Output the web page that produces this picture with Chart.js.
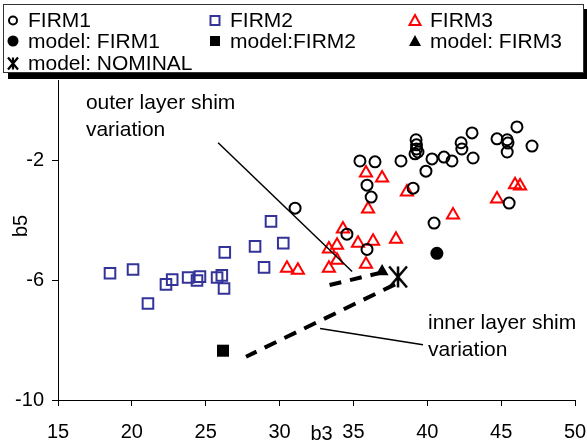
<!DOCTYPE html>
<html>
<head>
<meta charset="utf-8">
<script src="https://cdn.jsdelivr.net/npm/chart.js@4.4.0/dist/chart.umd.min.js"></script>
<style>
  body { margin: 0; background: #fff; }
  canvas { display: block; }
</style>
</head>
<body>
<canvas id="chart" width="587" height="442"></canvas>
<script>
// measured points, b3 on x, b5 on y
const firm1B3 = [35.44, 36.46, 38.22, 39.24, 39.27, 39.27, 39.17, 39.37, 40.32, 41.13, 41.67, 39.91, 42.29, 42.34, 43.03, 43.1, 44.72, 45.41, 45.46, 45.41, 46.07, 47.09, 35.92, 36.2, 39.04, 45.54, 31.05, 40.46, 34.56, 35.92];
const firm1B5 = [-2.0, -2.03, -2.0, -1.29, -1.46, -1.6, -1.76, -1.7, -1.93, -1.87, -2.0, -2.34, -1.39, -1.6, -1.06, -1.9, -1.26, -1.29, -1.4, -1.7, -0.86, -1.5, -2.81, -3.21, -2.91, -3.41, -3.58, -4.08, -4.45, -4.96];

const firm2B3 = [18.52, 20.08, 21.09, 22.31, 22.73, 23.81, 24.41, 24.61, 25.77, 26.09, 26.24, 26.29, 28.34, 28.95, 29.42, 30.25];
const firm2B5 = [-5.76, -5.63, -6.77, -6.13, -5.97, -5.9, -6.0, -5.87, -5.9, -5.83, -6.27, -5.06, -4.86, -5.56, -4.02, -4.75];

const firm3B3 = [35.85, 36.94, 38.62, 44.72, 45.94, 46.28, 35.99, 41.74, 34.29, 33.89, 33.34, 35.31, 36.33, 37.88, 33.89, 33.34, 35.85, 30.5, 31.24];
const firm3B5 = [-2.4, -2.57, -3.04, -3.27, -2.8, -2.84, -3.61, -3.81, -4.28, -4.82, -4.95, -4.75, -4.69, -4.62, -5.32, -5.59, -5.46, -5.59, -5.66];

// model results
const modelFirm1 = [40.65, -5.09];
const modelFirm2 = [26.17, -8.35];
const modelFirm3 = [36.94, -5.7];
const modelNominal = [38.02, -5.88];

// model shim variation curves
const outerCurveB3 = [36.94, 33.22];
const outerCurveB5 = [-5.73, -6.17];
const innerCurveB3 = [37.82, 27.73];
const innerCurveB5 = [-6.13, -8.55];

// callout lines and labels
const outerLeaderB3 = [25.84, 34.91];
const outerLeaderB5 = [-1.39, -5.70];
const innerLeaderB3 = [32.74, 39.71];
const innerLeaderB5 = [-7.61, -8.15];
const outerLabel = { b3: 16.89, b5: [-0.08, -0.96], lines: ["outer layer shim", "variation"] };
const innerLabel = { b3: 40.05, b5: [-7.43, -8.32], lines: ["inner layer shim", "variation"] };

const xTicks = [15, 20, 25, 30, 35, 40, 45, 50];
const yTicks = [-10, -6, -2];

const FONT = "'Liberation Sans', Arial, sans-serif";
const BLUE = "#333399";
const RED = "#ff0000";

const toPoints = (xs, ys) => xs.map((x, i) => ({ x: x, y: ys[i] }));

// excel style asterisk: x plus vertical bar
const makeStar = (size, lw) => {
  const c = document.createElement("canvas");
  c.width = size;
  c.height = size;
  const g = c.getContext("2d");
  const h = size / 2;
  const a = h - lw;
  g.strokeStyle = "#000";
  g.lineWidth = lw;
  g.beginPath();
  g.moveTo(h - a * 0.85, h - a);
  g.lineTo(h + a * 0.85, h + a);
  g.moveTo(h + a * 0.85, h - a);
  g.lineTo(h - a * 0.85, h + a);
  g.moveTo(h, h - a);
  g.lineTo(h, h + a);
  g.stroke();
  return c;
};
const bigStar = makeStar(26, 2.5);

const drawSymbol = (ctx, kind, x, y) => {
  ctx.save();
  ctx.lineWidth = 2;
  ctx.beginPath();
  if (kind === "circle") {
    ctx.strokeStyle = "#000";
    ctx.arc(x, y, 4, 0, Math.PI * 2);
    ctx.stroke();
  } else if (kind === "square") {
    ctx.strokeStyle = BLUE;
    ctx.rect(x - 4.5, y - 4.5, 9, 9);
    ctx.stroke();
  } else if (kind === "triangle") {
    ctx.strokeStyle = RED;
    ctx.moveTo(x, y - 5.5);
    ctx.lineTo(x + 5.5, y + 4.5);
    ctx.lineTo(x - 5.5, y + 4.5);
    ctx.closePath();
    ctx.stroke();
  } else if (kind === "dot") {
    ctx.fillStyle = "#000";
    ctx.arc(x, y, 5.5, 0, Math.PI * 2);
    ctx.fill();
  } else if (kind === "block") {
    ctx.fillStyle = "#000";
    ctx.rect(x - 5, y - 5, 10, 10);
    ctx.fill();
  } else if (kind === "wedge") {
    ctx.fillStyle = "#000";
    ctx.moveTo(x, y - 6);
    ctx.lineTo(x + 6, y + 5);
    ctx.lineTo(x - 6, y + 5);
    ctx.closePath();
    ctx.fill();
  } else if (kind === "star") {
    ctx.strokeStyle = "#000";
    ctx.lineWidth = 2.2;
    ctx.moveTo(x - 5, y - 6);
    ctx.lineTo(x + 5, y + 6);
    ctx.moveTo(x + 5, y - 6);
    ctx.lineTo(x - 5, y + 6);
    ctx.moveTo(x, y - 6);
    ctx.lineTo(x, y + 6);
    ctx.stroke();
  }
  ctx.restore();
};

const legendItems = [
  { kind: "circle", text: "FIRM1", col: 0, row: 0 },
  { kind: "square", text: "FIRM2", col: 1, row: 0 },
  { kind: "triangle", text: "FIRM3", col: 2, row: 0 },
  { kind: "dot", text: "model: FIRM1", col: 0, row: 1 },
  { kind: "block", text: "model:FIRM2", col: 1, row: 1 },
  { kind: "wedge", text: "model: FIRM3", col: 2, row: 1 },
  { kind: "star", text: "model: NOMINAL", col: 0, row: 2 },
];
const legendColX = [13, 215, 415];
const legendRowY = [20.5, 41, 63.5];

const decorations = {
  id: "decorations",
  afterDraw(chart) {
    const ctx = chart.ctx;
    const xs = chart.scales.x;
    const ys = chart.scales.y;
    const area = chart.chartArea;

    // callout labels
    ctx.save();
    ctx.fillStyle = "#000";
    ctx.font = "21px " + FONT;
    ctx.textBaseline = "middle";
    ctx.textAlign = "left";
    [outerLabel, innerLabel].forEach((lab) => {
      lab.lines.forEach((t, i) => {
        ctx.fillText(t, xs.getPixelForValue(lab.b3), ys.getPixelForValue(lab.b5[i]));
      });
    });

    // axis titles
    ctx.font = "20px " + FONT;
    ctx.textAlign = "center";
    ctx.fillText("b3", (area.left + area.right) / 2 + 5, 434);
    ctx.translate(21, 226);
    ctx.rotate(-Math.PI / 2);
    ctx.fillText("b5", 0, 0);
    ctx.restore();

    // legend box with shadow
    ctx.save();
    ctx.fillStyle = "#000";
    ctx.fillRect(8, 9, 579, 70);
    ctx.fillStyle = "#fff";
    ctx.fillRect(3, 4, 581, 69);
    ctx.strokeStyle = "#333";
    ctx.lineWidth = 1;
    ctx.strokeRect(3.5, 4.5, 580, 68);
    ctx.font = "21px " + FONT;
    ctx.fillStyle = "#000";
    ctx.textBaseline = "middle";
    ctx.textAlign = "left";
    legendItems.forEach((it) => {
      const x = legendColX[it.col];
      const y = legendRowY[it.row];
      drawSymbol(ctx, it.kind, x, y);
      ctx.fillText(it.text, x + 15, y + 1);
    });
    ctx.restore();
  },
};

const ctx = document.getElementById("chart").getContext("2d");
new Chart(ctx, {
  type: "scatter",
  data: {
    datasets: [
      {
        label: "outer leader",
        data: toPoints(outerLeaderB3, outerLeaderB5),
        showLine: true,
        borderColor: "#000",
        borderWidth: 1.5,
        pointRadius: 0,
      },
      {
        label: "inner leader",
        data: toPoints(innerLeaderB3, innerLeaderB5),
        showLine: true,
        borderColor: "#000",
        borderWidth: 1.5,
        pointRadius: 0,
      },
      {
        label: "outer curve",
        data: toPoints(outerCurveB3, outerCurveB5),
        showLine: true,
        borderColor: "#000",
        borderWidth: 4,
        borderDash: [12, 9],
        pointRadius: 0,
      },
      {
        label: "inner curve",
        data: toPoints(innerCurveB3, innerCurveB5),
        showLine: true,
        borderColor: "#000",
        borderWidth: 4,
        borderDash: [13, 9],
        pointRadius: 0,
      },
      {
        label: "FIRM1",
        data: toPoints(firm1B3, firm1B5),
        pointStyle: "circle",
        pointRadius: 5.5,
        borderWidth: 2,
        borderColor: "#000",
        backgroundColor: "rgba(0,0,0,0)",
      },
      {
        label: "FIRM2",
        data: toPoints(firm2B3, firm2B5),
        pointStyle: "rect",
        pointRadius: 7.5,
        borderWidth: 2,
        borderColor: BLUE,
        backgroundColor: "rgba(0,0,0,0)",
      },
      {
        label: "FIRM3",
        data: toPoints(firm3B3, firm3B5),
        pointStyle: "triangle",
        pointRadius: 7,
        borderWidth: 2,
        borderColor: RED,
        backgroundColor: "rgba(0,0,0,0)",
      },
      {
        label: "model: FIRM1",
        data: [{ x: modelFirm1[0], y: modelFirm1[1] }],
        pointStyle: "circle",
        pointRadius: 6.5,
        borderWidth: 0,
        backgroundColor: "#000",
      },
      {
        label: "model:FIRM2",
        data: [{ x: modelFirm2[0], y: modelFirm2[1] }],
        pointStyle: "rect",
        pointRadius: 8.5,
        borderWidth: 0,
        backgroundColor: "#000",
      },
      {
        label: "model: FIRM3",
        data: [{ x: modelFirm3[0], y: modelFirm3[1] }],
        pointStyle: "triangle",
        pointRadius: 7.5,
        borderWidth: 0,
        backgroundColor: "#000",
      },
      {
        label: "model: NOMINAL",
        data: [{ x: modelNominal[0], y: modelNominal[1] }],
        pointStyle: bigStar,
        pointRadius: 10,
      },
    ],
  },
  options: {
    responsive: false,
    animation: false,
    layout: { padding: { top: 80, right: 12, left: 0, bottom: 0 } },
    plugins: {
      legend: { display: false },
      tooltip: { enabled: false },
    },
    scales: {
      x: {
        type: "linear",
        min: 15,
        max: 50,
        afterBuildTicks: (s) => { s.ticks = xTicks.map((v) => ({ value: v })); },
        afterFit: (s) => {
          s.height = 42;
          s.paddingLeft = 0;
          s.paddingRight = 0;
        },
        ticks: { color: "#000", padding: 14, font: { size: 20, family: FONT } },
        grid: { drawOnChartArea: false, drawTicks: true, tickLength: 6, color: "#000" },
        border: { color: "#000", width: 1 },
      },
      y: {
        type: "linear",
        min: -10,
        max: 0.71,
        afterBuildTicks: (s) => { s.ticks = yTicks.map((v) => ({ value: v })); },
        afterFit: (s) => {
          s.width = 58;
          s.paddingTop = 0;
          s.paddingBottom = 0;
        },
        ticks: { color: "#000", padding: 8, font: { size: 20, family: FONT } },
        grid: { drawOnChartArea: false, drawTicks: true, tickLength: 6, color: "#000" },
        border: { color: "#000", width: 1 },
      },
    },
  },
  plugins: [decorations],
});
</script>
</body>
</html>
